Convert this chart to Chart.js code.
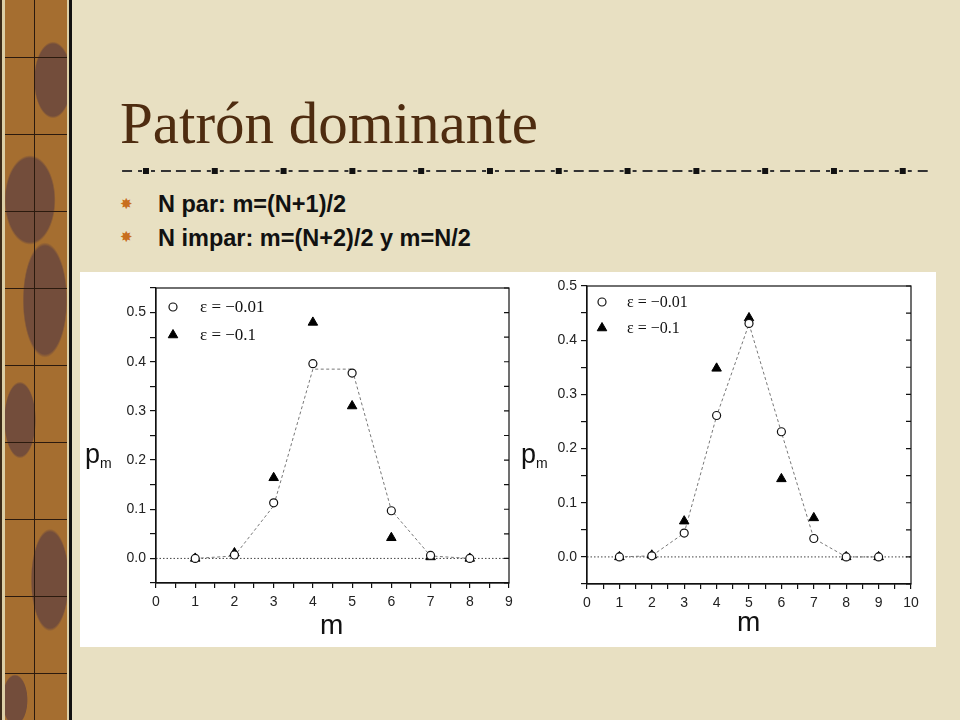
<!DOCTYPE html>
<html lang="es">
<head>
<meta charset="UTF-8">
<title>Patrón dominante</title>
<script src="https://cdn.jsdelivr.net/npm/chart.js"></script>
<style>
  body {
    margin: 0;
    width: 960px;
    height: 720px;
    position: relative;
    overflow: hidden;
    background: #e8e0c2;
    font-family: Arial, "Liberation Sans", sans-serif;
  }
  .strip {
    position: absolute; left: 0; top: 0;
    width: 72px; height: 720px;
    box-sizing: border-box;
    background: #dccfa6;
    border-left: 2px solid #3a2a18;
    border-right: 3px solid #111;
  }
  .wood {
    position: absolute; left: 3px; top: 0;
    width: 62px; height: 720px;
    background:
      linear-gradient(to right, transparent 29px, #2b1a0e 29px, #2b1a0e 30px, transparent 30px),
      repeating-linear-gradient(to bottom, transparent 0, transparent 57px, #2b1a0e 57px, #2b1a0e 58px, transparent 58px, transparent 77px),
      radial-gradient(ellipse 30px 60px at 48px 80px, #734d3b 60%, transparent 64%),
      radial-gradient(ellipse 40px 70px at 25px 200px, #734d3b 60%, transparent 64%),
      radial-gradient(ellipse 35px 90px at 40px 300px, #734d3b 60%, transparent 64%),
      radial-gradient(ellipse 25px 60px at 15px 420px, #734d3b 60%, transparent 64%),
      radial-gradient(ellipse 30px 80px at 45px 580px, #734d3b 60%, transparent 64%),
      radial-gradient(ellipse 20px 40px at 10px 700px, #734d3b 60%, transparent 64%),
      #a56e30;
  }
  .title {
    position: absolute; left: 120px; top: 94px;
    font-family: "Liberation Serif", "Times New Roman", serif;
    font-size: 59px; line-height: 59px;
    color: #4e2c10;
    white-space: nowrap;
  }
  .rule {
    position: absolute; left: 118px; top: 167px;
    width: 810px; height: 8px;
    background:
      linear-gradient(to right, #111 0, #111 6px, transparent 6px) 25px 1px / 68.8px 6px repeat-x,
      linear-gradient(to right, #333 0, #333 4px, transparent 4px, transparent 10px, #333 10px, #333 20px, transparent 20px, transparent 25px, #333 25px, #333 35px, transparent 35px, transparent 40px, #333 40px, #333 50px, transparent 50px, transparent 56px, #333 56px, #333 60px, transparent 60px) 33px 3px / 68.8px 2px repeat-x;
  }
  .bullet {
    position: absolute; left: 120px;
    font-family: "DejaVu Sans", sans-serif;
    font-size: 15px; line-height: 15px;
    color: #c86f1e;
  }
  .item {
    position: absolute; left: 158px;
    font-size: 23.5px; line-height: 23.5px; font-weight: bold;
    color: #111;
    white-space: nowrap;
  }
  .panel {
    position: absolute; left: 80px; top: 272px;
    width: 856px; height: 375px;
    background: #fff;
  }
  #leftChart { position: absolute; left: 0; top: 0; }
  #rightChart { position: absolute; left: 435px; top: 0; }
  .axlab {
    position: absolute;
    font-family: Arial, "Liberation Sans", sans-serif;
    color: #111;
    white-space: nowrap;
  }
  .axlab sub { font-size: 14px; vertical-align: -5px; }
</style>
</head>
<body>

  <div class="strip"><div class="wood"></div></div>

  <div class="title">Patrón dominante</div>
  <div class="rule"></div>

  <div class="bullet" style="top:197px">✸</div>
  <div class="item" style="top:193px">N par: m=(N+1)/2</div>
  <div class="bullet" style="top:230px">✸</div>
  <div class="item" style="top:227px">N impar: m=(N+2)/2 y m=N/2</div>

  <div class="panel">
    <canvas id="leftChart" width="435" height="375"></canvas>
    <canvas id="rightChart" width="421" height="375"></canvas>
  </div>

  <!-- axis titles (p with subscript m, and m) -->
  <div class="axlab" style="left:85px; top:441px; font-size:27px; line-height:27px">p<sub>m</sub></div>
  <div class="axlab" style="left:521px; top:441px; font-size:27px; line-height:27px">p<sub>m</sub></div>
  <div class="axlab" style="left:320px; top:611px; font-size:28px; line-height:28px">m</div>
  <div class="axlab" style="left:737px; top:608px; font-size:28px; line-height:28px">m</div>

<script>
  // Left panel (N even)
  const mLeft = [1, 2, 3, 4, 5, 6, 7, 8];
  const pLeftWeak   = [0.0, 0.007, 0.113, 0.396, 0.377, 0.097, 0.006, 0.0];  // ε = −0.01
  const pLeftStrong = [0.0, 0.011, 0.164, 0.480, 0.310, 0.042, 0.003, 0.0];  // ε = −0.1
  const pLeftFit    = [0.0, 0.005, 0.107, 0.385, 0.385, 0.098, 0.005, 0.0];

  // Right panel (N odd)
  const mRight = [1, 2, 3, 4, 5, 6, 7, 8, 9];
  const pRightWeak   = [0.0, 0.002, 0.044, 0.261, 0.431, 0.231, 0.034, 0.0, 0.0];
  const pRightStrong = [0.0, 0.003, 0.066, 0.348, 0.441, 0.144, 0.072, 0.0, 0.0];
  const pRightFit    = [0.0, 0.002, 0.044, 0.260, 0.430, 0.230, 0.034, 0.0, 0.0];

  const seriesLabels = ['ε = −0.01', 'ε = −0.1'];

  const toPoints = (xs, ys) => xs.map((x, i) => ({ x: x, y: ys[i] }));

  // box, inward right ticks, dotted zero line and the legend inside the plot
  const framePlugin = {
    id: 'frame',
    beforeDatasetsDraw(chart) {
      const { ctx, chartArea: a, scales: { y } } = chart;
      const y0 = y.getPixelForValue(0);
      ctx.save();
      ctx.strokeStyle = '#444';
      ctx.lineWidth = 1;
      ctx.setLineDash([1.5, 2]);
      ctx.beginPath();
      ctx.moveTo(a.left, y0);
      ctx.lineTo(a.right, y0);
      ctx.stroke();
      ctx.restore();
    },
    afterDraw(chart, args, opts) {
      const { ctx, chartArea: a, scales: { y } } = chart;
      ctx.save();
      ctx.strokeStyle = '#111';
      ctx.lineWidth = 1.2;
      ctx.strokeRect(a.left, a.top, a.width, a.height);
      ctx.beginPath();
      y.ticks.forEach(t => {
        const py = y.getPixelForValue(t.value);
        ctx.moveTo(a.right, py);
        ctx.lineTo(a.right - 5, py);
      });
      ctx.stroke();

      // legend
      const marks = chart.data.datasets.filter(d => d.inLegend);
      marks.forEach((d, i) => {
        const px = a.left + opts.dx;
        const py = a.top + opts.dy + i * opts.gap;
        ctx.fillStyle = d.backgroundColor;
        ctx.strokeStyle = d.borderColor;
        ctx.lineWidth = d.borderWidth;
        Chart.helpers.drawPoint(ctx, { pointStyle: d.pointStyle, radius: d.pointRadius, borderWidth: d.borderWidth, rotation: 0 }, px, py);
        ctx.fillStyle = '#111';
        ctx.font = opts.fontSize + 'px "Liberation Serif", "Times New Roman", serif';
        ctx.textBaseline = 'middle';
        ctx.fillText(d.label, a.left + opts.tx, py + 1);
      });
      ctx.restore();
    }
  };

  function makeData(xs, weak, strong, fit) {
    return {
      datasets: [
        {
          label: seriesLabels[0],
          data: toPoints(xs, weak),
          inLegend: true,
          showLine: false,
          pointStyle: 'circle',
          pointRadius: 4,
          borderWidth: 1.2,
          borderColor: '#111',
          backgroundColor: '#fff',
          order: 0
        },
        {
          label: seriesLabels[1],
          data: toPoints(xs, strong),
          inLegend: true,
          showLine: false,
          pointStyle: 'triangle',
          pointRadius: 5.5,
          borderWidth: 1,
          borderColor: '#000',
          backgroundColor: '#000',
          order: 1
        },
        {
          label: 'fit',
          data: toPoints(xs, fit),
          showLine: true,
          pointRadius: 0,
          borderWidth: 1,
          borderColor: '#777',
          borderDash: [3, 2.5],
          order: 2
        }
      ]
    };
  }

  const isStep = (v, f) => Math.abs(v * f - Math.round(v * f)) < 1e-6;

  function makeOptions(xMax, yMax, pad, legend) {
    const tickFont = { family: 'Arial, "Liberation Sans", sans-serif', size: 14 };
    return {
      responsive: false,
      animation: false,
      layout: { padding: pad, autoPadding: false },
      plugins: {
        legend: { display: false },
        tooltip: { enabled: false },
        frame: legend
      },
      scales: {
        x: {
          type: 'linear',
          min: 0,
          max: xMax,
          ticks: {
            stepSize: 0.5,
            autoSkip: false,
            maxRotation: 0,
            color: '#222',
            font: tickFont,
            padding: 6,
            callback: v => isStep(v, 1) ? String(Math.round(v)) : ''
          },
          grid: { drawOnChartArea: false, tickLength: 5, color: '#111', lineWidth: 1.2 },
          border: { color: '#111', width: 1.2 },
          afterFit: s => { s.height = 28; s.paddingLeft = 0; s.paddingRight = 0; }
        },
        y: {
          min: -0.05,
          max: yMax,
          ticks: {
            stepSize: 0.05,
            autoSkip: false,
            color: '#222',
            font: tickFont,
            padding: 4,
            callback: v => isStep(v, 10) ? (Math.round(v * 10) / 10).toFixed(1) : ''
          },
          grid: { drawOnChartArea: false, tickLength: 6, color: '#111', lineWidth: 1.2 },
          border: { color: '#111', width: 1.2 },
          afterFit: s => { s.width = 36; s.paddingTop = 0; s.paddingBottom = 0; }
        }
      }
    };
  }

  new Chart(document.getElementById('leftChart'), {
    type: 'scatter',
    data: makeData(mLeft, pLeftWeak, pLeftStrong, pLeftFit),
    options: makeOptions(9, 0.55, { left: 40, top: 16, right: 6, bottom: 36 },
      { dx: 17, dy: 19, gap: 28, tx: 44, fontSize: 17 }),
    plugins: [framePlugin]
  });

  new Chart(document.getElementById('rightChart'), {
    type: 'scatter',
    data: makeData(mRight, pRightWeak, pRightStrong, pRightFit),
    options: makeOptions(10, 0.5, { left: 36, top: 14, right: 25, bottom: 35 },
      { dx: 15, dy: 16, gap: 26, tx: 40, fontSize: 16 }),
    plugins: [framePlugin]
  });
</script>
</body>
</html>
